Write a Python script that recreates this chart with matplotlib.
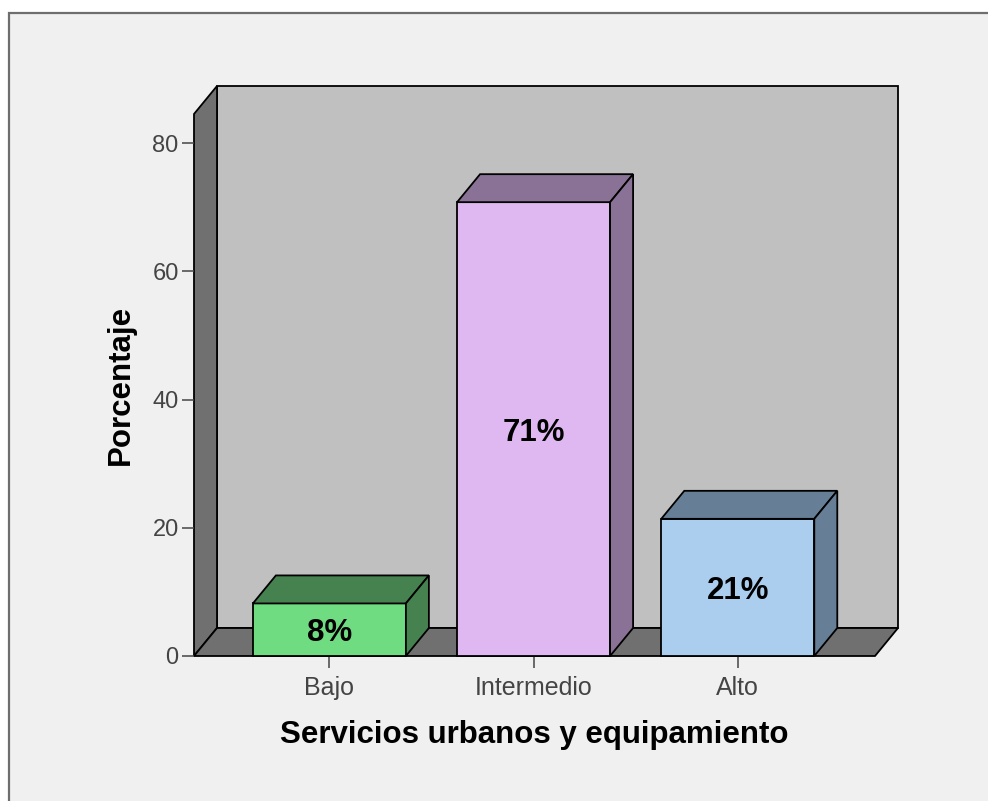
import matplotlib
matplotlib.use('Agg')
import matplotlib.pyplot as plt
from matplotlib.patches import Polygon, Rectangle

categories = ['Bajo', 'Intermedio', 'Alto']
values = [8.2, 70.8, 21.4]
labels = ['8%', '71%', '21%']
yticks = [0, 20, 40, 60, 80]
front = ['#70DC82', '#DFB8F2', '#ABCDEE']
top = ['#46824F', '#8A7196', '#667F97']

plt.rcParams['font.family'] = ['Liberation Sans', 'DejaVu Sans']
W, H = 988, 801
fig = plt.figure(figsize=(W / 100, H / 100), dpi=100, facecolor='white')

# whole figure in pixels, for the frame around the chart
bg = fig.add_axes([0, 0, 1, 1])
bg.set_xlim(0, W)
bg.set_ylim(H, 0)
bg.axis('off')
bg.add_patch(Rectangle((9, 13), W, H, fc='#F0F0F0', ec='#6E6E6E', lw=1.6))

# data axes: x is category position, y is percent
ax = fig.add_axes([194 / W, 1 - 656 / H, 681 / W, (656 - 114) / H])
ax.patch.set_alpha(0)
ax.set_xlim(-0.663, 2.672)
ax.set_ylim(0, 542 / 6.41)
for s in ax.spines.values():
    s.set_visible(False)
dx = 23 / 681 * 3.335
dy = 28 / 6.41
c = dict(clip_on=False, ec='black', lw=1.3)
x0, x1 = ax.get_xlim()
y1 = ax.get_ylim()[1]
ax.add_patch(Polygon([(x0 + dx, dy), (x1 + dx, dy), (x1 + dx, y1 + dy), (x0 + dx, y1 + dy)], fc='#C0C0C0', zorder=1, **c))
ax.add_patch(Polygon([(x0, 0), (x0 + dx, dy), (x0 + dx, y1 + dy), (x0, y1)], fc='#707070', zorder=1, **c))
ax.add_patch(Polygon([(x0, 0), (x1, 0), (x1 + dx, dy), (x0 + dx, dy)], fc='#707070', zorder=1, **c))

w = 153 / 681 * 3.335
for i, v in enumerate(values):
    l, r = i - w / 2, i + w / 2
    ax.bar(i, v, w, color=front[i], edgecolor='black', linewidth=1.3, zorder=3, clip_on=False)
    ax.add_patch(Polygon([(l, v), (r, v), (r + dx, v + dy), (l + dx, v + dy)], fc=top[i], zorder=3, **c))
    ax.add_patch(Polygon([(r, 0), (r + dx, dy), (r + dx, v + dy), (r, v)], fc=top[i], zorder=3, **c))
    ax.text(i, v / 2 - 0.55, labels[i], ha='center', va='center', fontsize=22.5, fontweight='bold', zorder=4)

ax.set_xticks(range(3), categories)
ax.set_yticks(yticks)
ax.tick_params(axis='both', labelsize=18, length=8.5, width=1.1, color='#444444', labelcolor='#444444')
ax.tick_params(axis='x', pad=6)
ax.tick_params(axis='y', labelsize=17, pad=2.5)
ax.set_xlabel('Servicios urbanos y equipamiento', fontsize=22.5, fontweight='bold', labelpad=14)
ax.set_ylabel('Porcentaje', fontsize=22.5, fontweight='bold', labelpad=12)

fig.savefig('out.png', dpi=100)
